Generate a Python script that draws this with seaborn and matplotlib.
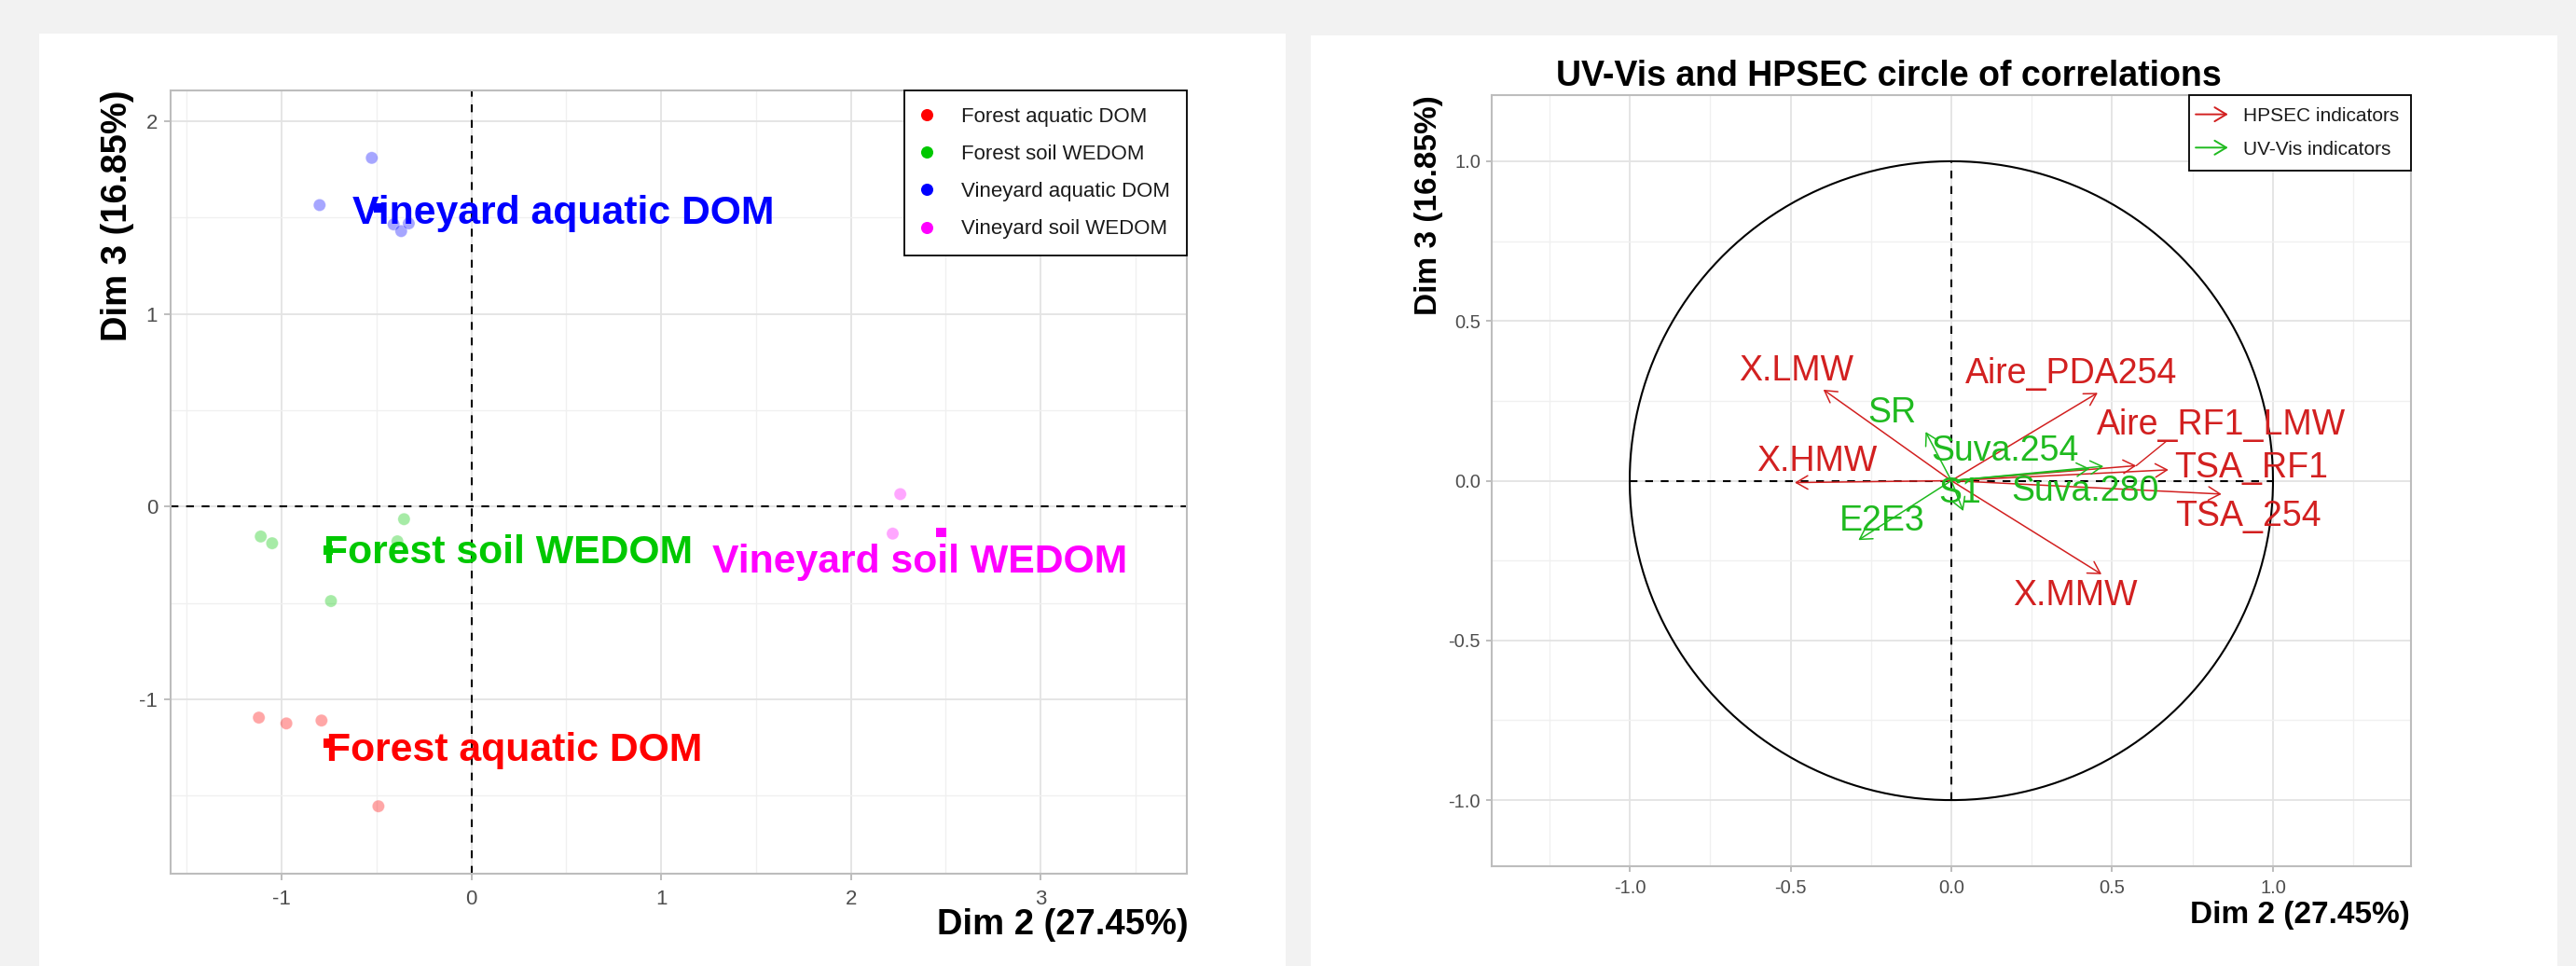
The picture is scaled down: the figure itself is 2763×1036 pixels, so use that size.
import numpy as np
import pandas as pd
import matplotlib
matplotlib.use("Agg")
import matplotlib.pyplot as plt
import matplotlib.patches as mpatches
from matplotlib.lines import Line2D
from matplotlib.legend_handler import HandlerBase
import seaborn as sns

# ---------------- individuals: PCA scores on Dim 2 / Dim 3 ----------------
groups = ["Forest aquatic DOM", "Forest soil WEDOM",
          "Vineyard aquatic DOM", "Vineyard soil WEDOM"]
forest_aquatic_x = [-1.12, -0.975, -0.79, -0.49]
forest_aquatic_y = [-1.095, -1.125, -1.11, -1.555]
forest_soil_x = [-1.11, -1.05, -0.355, -0.39, -0.74]
forest_soil_y = [-0.155, -0.19, -0.065, -0.18, -0.49]
vineyard_aquatic_x = [-0.525, -0.80, -0.41, -0.37, -0.33]
vineyard_aquatic_y = [1.81, 1.565, 1.465, 1.43, 1.47]
vineyard_soil_x = [2.26, 2.22]
vineyard_soil_y = [0.065, -0.14]
# group barycentres
centre_x = [-0.755, -0.755, -0.49, 2.475]
centre_y = [-1.228, -0.225, 1.55, -0.133]

# ---------------- variables: correlation circle ----------------
hpsec_names = ["X.LMW", "Aire_PDA254", "Aire_RF1_LMW", "TSA_RF1",
               "TSA_254", "X.HMW", "X.MMW"]
hpsec_x = [-0.398, 0.455, 0.575, 0.675, 0.84, -0.487, 0.467]
hpsec_y = [0.285, 0.275, 0.047, 0.034, -0.042, -0.006, -0.293]
uvvis_names = ["SR", "Suva.254", "Suva.280", "S1", "E2E3"]
uvvis_x = [-0.08, 0.473, 0.43, 0.037, -0.289]
uvvis_y = [0.153, 0.045, 0.038, -0.095, -0.186]

x_ticks_ind = [-1, 0, 1, 2, 3]
y_ticks_ind = [-1, 0, 1, 2]
ticks_var = [-1.0, -0.5, 0.0, 0.5, 1.0]
tick_labels_var = ["-1.0", "-0.5", "0.0", "0.5", "1.0"]

# ---------------- styling ----------------
sns.set_theme(style="white")
plt.rcParams["font.family"] = ["Liberation Sans", "DejaVu Sans"]
plt.rcParams["axes.unicode_minus"] = False

palette = {"Forest aquatic DOM": "#FF0000", "Forest soil WEDOM": "#00C800",
           "Vineyard aquatic DOM": "#0000FF", "Vineyard soil WEDOM": "#FF00FF"}
hpsec_col = "#D22020"
uvvis_col = "#1FBA1F"
tick_col = "#4D4D4D"

W, H = 2763, 1036


def fx(px):
    return px / W


def fy(py):
    return 1 - py / H


fig = plt.figure(figsize=(W / 100, H / 100), dpi=100, facecolor="#F2F2F2")

# white backing cards for the two plots
for (x0, y0, x1, y1) in [(42, 36, 1379, 1036), (1406, 38, 2743, 1036)]:
    fig.add_artist(mpatches.Rectangle((fx(x0), fy(y1)), (x1 - x0) / W, (y1 - y0) / H,
                                      transform=fig.transFigure, facecolor="white",
                                      edgecolor="none", zorder=-10))


def style_panel(ax, majx, minx, majy, miny, labsize, ticklen, padx, pady):
    ax.set_facecolor("white")
    ax.set_xticks(majx)
    ax.set_xticks(minx, minor=True)
    ax.set_yticks(majy)
    ax.set_yticks(miny, minor=True)
    ax.grid(True, which="major", color="#E3E3E3", lw=1.3)
    ax.grid(True, which="minor", color="#F0F0F0", lw=1.0)
    ax.set_axisbelow(True)
    ax.tick_params(which="major", length=ticklen, width=1.1, color="#ABABAB",
                   labelsize=labsize, labelcolor=tick_col, bottom=True, left=True)
    ax.tick_params(axis="x", which="major", pad=padx)
    ax.tick_params(axis="y", which="major", pad=pady)
    ax.tick_params(which="minor", length=0)
    for s in ax.spines.values():
        s.set_color("#BDBDBD")
        s.set_linewidth(1.5)
    ax.set_xlabel("")
    ax.set_ylabel("")


# ================= individuals plot =================
ax1 = fig.add_axes([fx(183), fy(937), (1273 - 183) / W, (937 - 97) / H])
ind = pd.DataFrame({
    "dim2": forest_aquatic_x + forest_soil_x + vineyard_aquatic_x + vineyard_soil_x,
    "dim3": forest_aquatic_y + forest_soil_y + vineyard_aquatic_y + vineyard_soil_y,
    "group": ([groups[0]] * len(forest_aquatic_x) + [groups[1]] * len(forest_soil_x)
              + [groups[2]] * len(vineyard_aquatic_x) + [groups[3]] * len(vineyard_soil_x)),
})
centres = pd.DataFrame({"dim2": centre_x, "dim3": centre_y, "group": groups})

sns.scatterplot(data=ind, x="dim2", y="dim3", hue="group", palette=palette,
                hue_order=groups, s=90, alpha=0.35, linewidth=0.6, legend=False,
                ax=ax1, zorder=3)
ax1.axhline(0, color="black", lw=1.5, ls=(0, (4, 4)), zorder=2)
ax1.axvline(0, color="black", lw=1.5, ls=(0, (4, 4)), zorder=2)
sns.scatterplot(data=centres, x="dim2", y="dim3", hue="group", palette=palette,
                hue_order=groups, marker="s", s=55, linewidth=0, legend=False,
                ax=ax1, zorder=4)

# group names: left edge and baseline of each tag
group_tag_pos = {"Forest aquatic DOM": (-0.767, -1.319),
                 "Forest soil WEDOM": (-0.78, -0.295),
                 "Vineyard aquatic DOM": (-0.625, 1.467),
                 "Vineyard soil WEDOM": (1.267, -0.34)}
for g in groups:
    tx, ty = group_tag_pos[g]
    ax1.text(tx, ty, g, color=palette[g], fontsize=30.8, fontweight="bold",
             ha="left", va="baseline", zorder=5)

ax1.set_xlim(-1.585, 3.77)
ax1.set_ylim(-1.905, 2.16)
style_panel(ax1, x_ticks_ind, [-1.5, -0.5, 0.5, 1.5, 2.5, 3.5],
            y_ticks_ind, [-1.5, -0.5, 0.5, 1.5], 16, 5, 7, 5)
ax1.set_xticklabels([str(v) for v in x_ticks_ind])
ax1.set_yticklabels([str(v) for v in y_ticks_ind])

ind_handles = [Line2D([], [], ls="", marker="o", markersize=9.4, color=palette[g],
                      markeredgewidth=0, label=g) for g in groups]
leg1 = ax1.legend(handles=ind_handles, loc="upper right", bbox_to_anchor=(1, 1),
                  borderaxespad=0, fontsize=16, frameon=True, fancybox=False,
                  edgecolor="black", framealpha=1, borderpad=0.8,
                  labelspacing=0.865, handlelength=0.54, handletextpad=1.4)
leg1.get_frame().set_linewidth(1.3)
for t in leg1.get_texts():
    t.set_color("#1A1A1A")

fig.text(fx(126), fy(97), "Dim 3 (16.85%)", rotation=90, fontsize=27.5,
         fontweight="bold", ha="center", va="top", color="black")
fig.text(fx(1275), fy(1002), "Dim 2 (27.45%)", fontsize=27.5,
         fontweight="bold", ha="right", va="baseline", color="black")

# ================= correlation circle =================
ax2 = fig.add_axes([fx(1600), fy(929), (2586 - 1600) / W, (929 - 102) / H])

theta = np.linspace(0, 2 * np.pi, 400)
circle = pd.DataFrame({"cx": np.cos(theta), "cy": np.sin(theta)})
sns.lineplot(data=circle, x="cx", y="cy", sort=False, estimator=None,
             color="black", lw=1.5, ax=ax2, zorder=2)
ax2.plot([-1, 1], [0, 0], color="black", lw=1.5, ls=(0, (4, 4)), zorder=2)
ax2.plot([0, 0], [-1, 1], color="black", lw=1.5, ls=(0, (4, 4)), zorder=2)

ax2.set_xlim(-1.429, 1.429)
ax2.set_ylim(-1.207, 1.207)
style_panel(ax2, ticks_var, [-1.25, -0.75, -0.25, 0.25, 0.75, 1.25],
            ticks_var, [-0.75, -0.25, 0.25, 0.75], 14.5, 4.3, 5.8, 4.3)
ax2.set_xticklabels(tick_labels_var)
ax2.set_yticklabels(tick_labels_var)

arrow_style = "->,head_length=0.45,head_width=0.26"
for xs, ys, col in [(hpsec_x, hpsec_y, hpsec_col), (uvvis_x, uvvis_y, uvvis_col)]:
    for vx, vy in zip(xs, ys):
        ax2.annotate("", xy=(vx, vy), xytext=(0, 0),
                     arrowprops=dict(arrowstyle=arrow_style, color=col, lw=1.1,
                                     shrinkA=0, shrinkB=0, mutation_scale=20),
                     zorder=3)

# variable names: centre of each tag
var_tag_pos = {"X.LMW": (-0.482, 0.342), "Aire_PDA254": (0.374, 0.334),
               "Aire_RF1_LMW": (0.84, 0.175), "TSA_RF1": (0.933, 0.04),
               "TSA_254": (0.922, -0.112), "X.HMW": (-0.417, 0.059),
               "X.MMW": (0.385, -0.36), "SR": (-0.183, 0.212),
               "Suva.254": (0.168, 0.092), "Suva.280": (0.417, -0.034),
               "S1": (0.028, -0.04), "E2E3": (-0.216, -0.128)}
for names, xs, ys, col in [(hpsec_names, hpsec_x, hpsec_y, hpsec_col),
                           (uvvis_names, uvvis_x, uvvis_y, uvvis_col)]:
    for n, vx, vy in zip(names, xs, ys):
        tx, ty = var_tag_pos[n]
        ax2.text(tx, ty, n, color=col, fontsize=27, ha="center", va="center",
                 zorder=4)
        if n == "Aire_RF1_LMW":
            ax2.plot([vx, 0.669], [vy, 0.124], color=col, lw=1.0, zorder=3)


class ArrowKey(HandlerBase):
    def create_artists(self, legend, orig_handle, xdescent, ydescent, width,
                       height, fontsize, trans):
        yc = height / 2 - ydescent
        a = mpatches.FancyArrowPatch((-xdescent - 4, yc), (width - xdescent, yc),
                                     arrowstyle="->,head_length=0.5,head_width=0.3",
                                     mutation_scale=18, color=orig_handle.get_facecolor(),
                                     lw=1.4, shrinkA=0, shrinkB=0, transform=trans)
        return [a]


var_handles = [mpatches.Patch(color=hpsec_col, label="HPSEC indicators"),
               mpatches.Patch(color=uvvis_col, label="UV-Vis indicators")]
leg2 = ax2.legend(handles=var_handles, handler_map={mpatches.Patch: ArrowKey()},
                  loc="upper right", bbox_to_anchor=(1, 1), borderaxespad=0,
                  fontsize=15, frameon=True, fancybox=False, edgecolor="black",
                  framealpha=1, borderpad=0.62, labelspacing=0.8,
                  handlelength=1.4, handletextpad=0.77)
leg2.get_frame().set_linewidth(1.3)
for t in leg2.get_texts():
    t.set_color("#1A1A1A")

fig.text(fx(2026), fy(92), "UV-Vis and HPSEC circle of correlations", fontsize=27,
         fontweight="bold", ha="center", va="baseline", color="black")
fig.text(fx(1532), fy(102), "Dim 3 (16.85%)", rotation=90, fontsize=24,
         fontweight="bold", ha="center", va="top", color="black")
fig.text(fx(2585), fy(990), "Dim 2 (27.45%)", fontsize=24,
         fontweight="bold", ha="right", va="baseline", color="black")

fig.savefig("out.png", dpi=100, facecolor=fig.get_facecolor())
